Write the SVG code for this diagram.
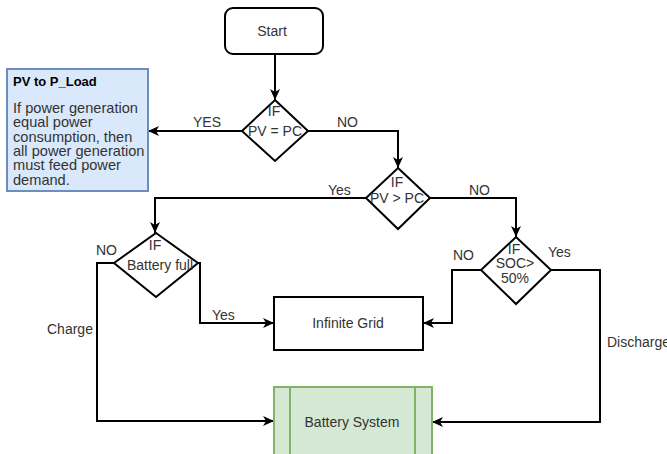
<svg xmlns="http://www.w3.org/2000/svg" width="667" height="454" viewBox="0 0 667 454">
<style>
  .shape { fill: #ffffff; stroke: #000000; stroke-width: 2; }
  .t { font-family: "Liberation Sans", Arial, sans-serif; font-size: 14px; fill: #333333; }
  .tc { text-anchor: middle; }
  .nb { font-size: 14.6px; }
  .conn { fill: none; stroke: #000000; stroke-width: 2; marker-end: url(#arrow); }
</style>
<defs>
  <marker id="arrow" viewBox="0 0 12 12" refX="11" refY="6" markerWidth="12" markerHeight="12" markerUnits="userSpaceOnUse" orient="auto">
    <path d="M0,1 L11,6 L0,11 L3,6 Z" fill="#000000"/>
  </marker>
</defs>
<rect width="667" height="454" fill="#ffffff"/>

<g id="connectors">
  <path class="conn" d="M275,54 L275,100"/>
  <path class="conn" d="M242,131 L148,131"/>
  <path class="conn" d="M308,131 L398,131 L398,168"/>
  <path class="conn" d="M366,198 L155,198 L155,233"/>
  <path class="conn" d="M430,198 L516,198 L516,237"/>
  <path class="conn" d="M114,263 L97,263 L97,421 L274,421"/>
  <path class="conn" d="M198,263 L200,263 L200,323 L274,323"/>
  <path class="conn" d="M481,270 L452,270 L452,323 L423,323"/>
  <path class="conn" d="M551,270 L600,270 L600,422 L432,422"/>
</g>

<g id="labels">
  <text class="t" x="193" y="127">YES</text>
  <text class="t" x="337" y="127">NO</text>
  <text class="t" x="328" y="195">Yes</text>
  <text class="t" x="469" y="195">NO</text>
  <text class="t" x="453" y="260">NO</text>
  <text class="t" x="548" y="257">Yes</text>
  <text class="t" x="96" y="255">NO</text>
  <text class="t" x="212" y="320">Yes</text>
  <text class="t" x="47" y="334">Charge</text>
  <text class="t" x="607" y="347">Discharge</text>
</g>

<g id="start">
  <rect class="shape" x="225" y="8" width="98" height="46" rx="8"/>
  <text class="t tc" x="272" y="36">Start</text>
</g>

<g id="note">
  <rect x="7" y="69" width="141" height="122" fill="#dae8fc" stroke="#6c8ebf" stroke-width="2"/>
  <text class="t" x="13" y="86" style="font-weight:bold;font-size:13px;fill:#000000">PV to P_Load</text>
  <text class="t nb" x="13" y="113">If power generation</text>
  <text class="t nb" x="13" y="127.3">equal power</text>
  <text class="t nb" x="13" y="141.6">consumption, then</text>
  <text class="t nb" x="13" y="156">all power generation</text>
  <text class="t nb" x="13" y="170.3">must feed power</text>
  <text class="t nb" x="13" y="184.6">demand.</text>
</g>

<g id="d1">
  <polygon class="shape" points="275,100 308,131 275,161 242,131"/>
  <text class="t tc" x="274" y="116">IF</text>
  <text class="t tc" x="275" y="136">PV = PC</text>
</g>

<g id="d2">
  <polygon class="shape" points="398,168 430,198 398,229 366,198"/>
  <text class="t tc" x="397" y="187">IF</text>
  <text class="t tc" x="397" y="203">PV &gt; PC</text>
</g>

<g id="d3">
  <polygon class="shape" points="156,233 198,263 156,297 114,263"/>
  <text class="t tc" x="155" y="250">IF</text>
  <text class="t tc" x="160" y="270">Battery full</text>
</g>

<g id="d4">
  <polygon class="shape" points="516,237 551,270 516,304 481,270"/>
  <text class="t tc" x="514" y="254">IF</text>
  <text class="t tc" x="515" y="268">SOC&gt;</text>
  <text class="t tc" x="515" y="283">50%</text>
</g>

<g id="grid">
  <rect class="shape" x="274" y="297" width="149" height="53"/>
  <text class="t tc" x="348" y="328">Infinite Grid</text>
</g>

<g id="battery">
  <rect x="274" y="387" width="158" height="80" fill="#d5e8d4" stroke="#82b366" stroke-width="2"/>
  <line x1="290" y1="387" x2="290" y2="467" stroke="#82b366" stroke-width="2"/>
  <line x1="415" y1="387" x2="415" y2="467" stroke="#82b366" stroke-width="2"/>
  <text class="t tc" x="352" y="427">Battery System</text>
</g>
</svg>
